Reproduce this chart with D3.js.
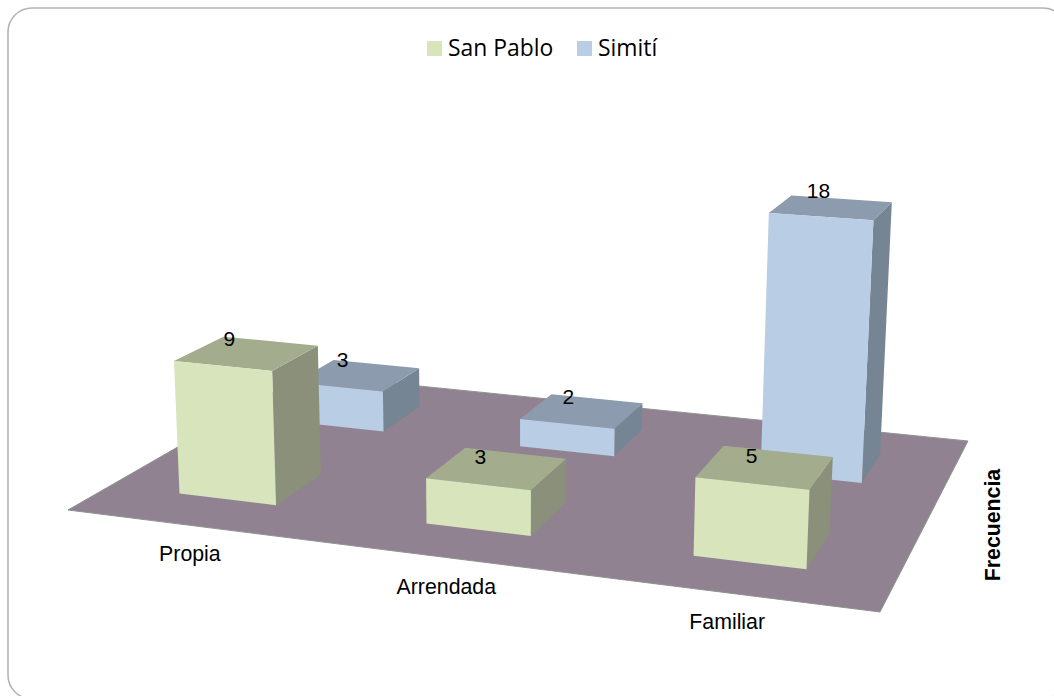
<!DOCTYPE html>
<html><head><meta charset="utf-8">
<script src="https://cdn.jsdelivr.net/npm/d3@7"></script>
<style>html,body{margin:0;padding:0;background:#fff}svg{display:block}</style>
</head><body><div id="chart"></div>
<script>
// ---- data ----
const categories = ["Propia", "Arrendada", "Familiar"];
const seriesNames = ["San Pablo", "Simití"];
const sanPablo = [9, 3, 5];
const simiti = [3, 2, 18];
const axisTitle = "Frecuencia";

// ---- layout / style ----
const W = 1054, H = 696;
const floorCorners = [[68,510],[880,612],[968,441],[304,374.5]]; // front-left, front-right, back-right, back-left
const verticalVanishing = [508, 8470];
const heightAt18 = 0.0335;
const faceColors = {
  "San Pablo": {front:"#d7e4bc", right:"#8a9079", top:"#a3ad8d"},
  "Simití":    {front:"#b9cde5", right:"#768594", top:"#8c9bae"}
};
const labelNudge = {
  "San Pablo": [[6,2],[15,9],[28,10]],
  "Simití":    [[9,0],[17,2],[27,-5]]
};
const categoryNudge = [2,-0.5,-0.5];

// ---- scales ----
const uScale = d3.scaleBand().domain(categories).range([-0.003,0.997]).paddingInner(0.60).paddingOuter(0.30);
const vScale = d3.scaleBand().domain(seriesNames).range([0,1]).paddingInner(0.61).paddingOuter(0.305);
const hScale = d3.scaleLinear().domain([0,18]).range([0,heightAt18]);

// ---- perspective projection: floor homography + vertical vanishing point ----
const [A,B,C,D] = floorCorners;
const dx1=B[0]-C[0], dx2=D[0]-C[0], sx=A[0]-B[0]+C[0]-D[0];
const dy1=B[1]-C[1], dy2=D[1]-C[1], sy=A[1]-B[1]+C[1]-D[1];
const den=dx1*dy2-dx2*dy1;
const g=(sx*dy2-dx2*sy)/den, h=(dx1*sy-sx*dy1)/den;
const a=B[0]-A[0]+g*B[0], b=D[0]-A[0]+h*D[0], c=A[0];
const d=B[1]-A[1]+g*B[1], e=D[1]-A[1]+h*D[1], f=A[1];
function project(u,v,val){
  const k=hScale(val);
  const w=g*u+h*v+1-k;
  return [(a*u+b*v+c-k*verticalVanishing[0])/w,(d*u+e*v+f-k*verticalVanishing[1])/w];
}
const pts=p=>p.map(q=>q.join(",")).join(" ");

// ---- chart ----
const svg=d3.select("#chart").append("svg").attr("width",W).attr("height",H);
svg.append("rect").attr("x",8).attr("y",8).attr("width",1059).attr("height",691).attr("rx",24)
  .attr("fill","#fff").attr("stroke","#b4b4b4").attr("stroke-width",1.6);

svg.append("polygon").attr("points",pts([[0,0],[1,0],[1,1],[0,1]].map(q=>project(q[0],q[1],0))))
  .attr("fill","#918291").attr("stroke","#8d9590").attr("stroke-width",1);

const rows=[{name:"Simití",values:simiti},{name:"San Pablo",values:sanPablo}];
const barData=rows.flatMap(r=>r.values.map((value,i)=>({series:r.name,category:categories[i],value,i})));
const bars=svg.append("g").selectAll("g").data(barData).join("g");
function corners(o){
  const u0=uScale(o.category),u1=u0+uScale.bandwidth();
  const v0=vScale(o.series),v1=v0+vScale.bandwidth();
  return {u0,u1,v0,v1};
}
bars.append("polygon").attr("fill",o=>faceColors[o.series].right).attr("points",o=>{
  const {u1,v0,v1}=corners(o);
  return pts([project(u1,v0,0),project(u1,v1,0),project(u1,v1,o.value),project(u1,v0,o.value)]);
});
bars.append("polygon").attr("fill",o=>faceColors[o.series].top).attr("points",o=>{
  const {u0,u1,v0,v1}=corners(o);
  return pts([project(u0,v0,o.value),project(u1,v0,o.value),project(u1,v1,o.value),project(u0,v1,o.value)]);
});
bars.append("polygon").attr("fill",o=>faceColors[o.series].front).attr("points",o=>{
  const {u0,u1,v0}=corners(o);
  return pts([project(u0,v0,0),project(u1,v0,0),project(u1,v0,o.value),project(u0,v0,o.value)]);
});

const sans="'Liberation Sans',Arial,sans-serif";
// value labels
svg.append("g").selectAll("text").data(barData).join("text")
  .attr("font-family",sans).attr("font-size",21).attr("fill","#000")
  .attr("text-anchor","middle").attr("dy","0.35em")
  .attr("x",o=>{const {u0,v1}=corners(o);return project(u0,v1,o.value)[0]+labelNudge[o.series][o.i][0];})
  .attr("y",o=>{const {u0,v1}=corners(o);return project(u0,v1,o.value)[1]+labelNudge[o.series][o.i][1];})
  .text(o=>o.value);

// category labels
svg.append("g").selectAll("text").data(categories).join("text")
  .attr("font-family",sans).attr("font-size",21.3).attr("fill","#000")
  .attr("text-anchor","middle")
  .attr("x",(cat,i)=>project(uScale(cat)+uScale.bandwidth()/2,0,0)[0]+categoryNudge[i])
  .attr("y",cat=>project(uScale(cat)+uScale.bandwidth()/2,0,0)[1]+36)
  .text(cat=>cat);

// axis title
svg.append("text").attr("transform","translate(1000,525) rotate(-90)")
  .attr("font-family",sans).attr("font-weight","bold").attr("font-size",21.3)
  .attr("text-anchor","middle").text(axisTitle);

// legend
const legendX=d3.scalePoint().domain(seriesNames).range([427,577]);
const leg=svg.append("g").selectAll("g").data(seriesNames).join("g");
leg.append("rect").attr("x",s=>legendX(s)).attr("y",41).attr("width",15).attr("height",15)
  .attr("fill",s=>faceColors[s].front);
leg.append("text").attr("x",s=>legendX(s)+21).attr("y",56)
  .attr("font-family","'Open Sans','Noto Sans',sans-serif").attr("font-size",22.9).attr("fill","#000")
  .text(s=>s);
</script></body></html>
